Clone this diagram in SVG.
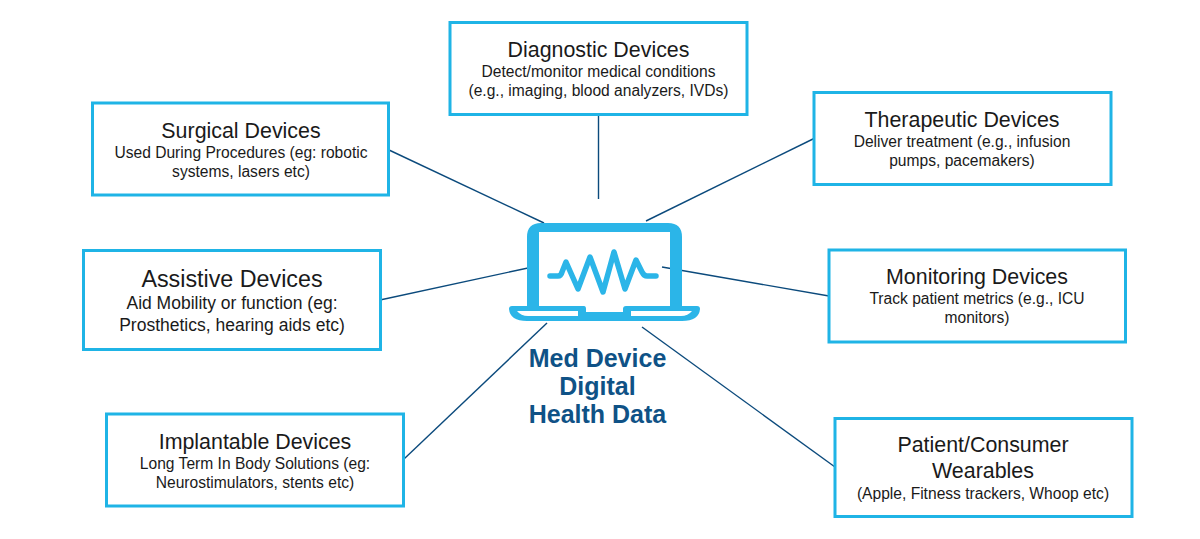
<svg xmlns="http://www.w3.org/2000/svg" width="1200" height="539" viewBox="0 0 1200 539">
<style>
text{font-family:"Liberation Sans",Arial,sans-serif;fill:#1a1a1a;text-anchor:middle}
.b{fill:#fff;stroke:#1fb4e6;stroke-width:3}
.t{font-size:21.4px}
.s{font-size:15.6px}
.ta{font-size:23.3px}
.sa{font-size:17.5px}
.c line{stroke:#0b4a7c;stroke-width:1.4}
.ic{fill:#2bb5e8}
.w{fill:none;stroke:#2bb5e8;stroke-width:5.500;stroke-linecap:round;stroke-linejoin:round}
.h{font-size:25px;font-weight:bold;fill:#0f5286}
</style>
<rect width="1200" height="539" fill="#fff"/>
<g id="connectors" class="c">
<line x1="598.500" y1="114" x2="598.500" y2="199"/>
<line x1="389" y1="150" x2="544" y2="223"/>
<line x1="815" y1="138" x2="646" y2="221"/>
<line x1="380" y1="300" x2="528" y2="268"/>
<line x1="829" y1="296" x2="662" y2="267"/>
<line x1="404" y1="459" x2="547" y2="323"/>
<line x1="835" y1="467" x2="642" y2="327"/>
</g>
<g id="hub">
<path class="ic" fill-rule="evenodd" d="M527 308V237Q527 223 541 223H668Q682 223 682 237V308ZM539 232V308H670V232Z"/>
<path class="w" d="M550 276H558Q561 276 562 272L566 262L578 289L590 257L603 292L614 252L625 289L636 260L642 272Q644 276 647 276H656"/>
<path class="ic" d="M512 306H584Q586 306 586 309V312H623V309Q623 306 626 306H697Q700 306 700 309Q699 321 682 321H527Q510 321 509 309Q509 306 512 306Z"/>
<path d="M517 311H578V316H528Q521 316 517 311ZM631 311H692Q688 316 681 316H631Z" fill="#fff"/>
<text class="h" x="597.500" y="367">Med Device</text>
<text class="h" x="597.500" y="395">Digital</text>
<text class="h" x="597.500" y="423">Health Data</text>
</g>
<g id="diagnostic"><rect class="b" x="450" y="22.500" width="297" height="92"/>
<text class="t" x="598.500" y="57">Diagnostic Devices</text><text class="s" x="598.500" y="77">Detect/monitor medical conditions</text><text class="s" x="598.500" y="96">(e.g., imaging, blood analyzers, IVDs)</text></g>
<g id="surgical"><rect class="b" x="92.500" y="103" width="296" height="92"/>
<text class="t" x="241" y="138">Surgical Devices</text><text class="s" x="241" y="158">Used During Procedures (eg: robotic</text><text class="s" x="241" y="177">systems, lasers etc)</text></g>
<g id="therapeutic"><rect class="b" x="814" y="92.500" width="297" height="92"/>
<text class="t" x="962" y="127">Therapeutic Devices</text><text class="s" x="962" y="147">Deliver treatment (e.g., infusion</text><text class="s" x="962" y="166">pumps, pacemakers)</text></g>
<g id="assistive"><rect class="b" x="83.500" y="250.500" width="297" height="99"/>
<text class="ta" x="232" y="287">Assistive Devices</text><text class="sa" x="232" y="309">Aid Mobility or function (eg:</text><text class="sa" x="232" y="331">Prosthetics, hearing aids etc)</text></g>
<g id="monitoring"><rect class="b" x="829" y="250" width="296.500" height="92"/>
<text class="t" x="977" y="284">Monitoring Devices</text><text class="s" x="977" y="304">Track patient metrics (e.g., ICU</text><text class="s" x="977" y="323">monitors)</text></g>
<g id="implantable"><rect class="b" x="106.500" y="414" width="297" height="92"/>
<text class="t" x="255" y="449">Implantable Devices</text><text class="s" x="255" y="469">Long Term In Body Solutions (eg:</text><text class="s" x="255" y="488">Neurostimulators, stents etc)</text></g>
<g id="wearables"><rect class="b" x="835" y="418.500" width="297" height="98"/>
<text class="t" x="983" y="452">Patient/Consumer</text><text class="t" x="983" y="478">Wearables</text><text class="s" x="983" y="499">(Apple, Fitness trackers, Whoop etc)</text></g>
</svg>
